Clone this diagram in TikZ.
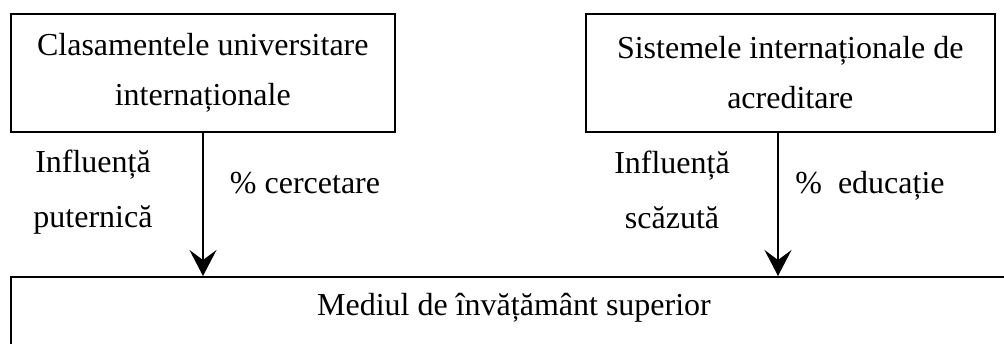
\documentclass[tikz,border=0pt]{standalone}
\usepackage{fontspec}
\setmainfont{Liberation Serif}
\usetikzlibrary{arrows.meta}
\begin{document}
\begin{tikzpicture}[x=1pt,y=-1pt,
  boxstyle/.style={draw=black, line width=1.6pt, inner sep=0pt, align=center,
     font=\fontsize{32}{50}\selectfont},
  lbl/.style={inner sep=0pt, anchor=base, font=\fontsize{32}{38}\selectfont},
  arr/.style={line width=1.8pt, -{Stealth[length=26pt, width=27pt, inset=10pt]}}]
\useasboundingbox (0,0) rectangle (1004,343);
\clip (0,0) rectangle (1004,343);
% top boxes
\node[boxstyle, minimum width=384pt, minimum height=118pt, anchor=north west] (b1) at (10,13)
  {Clasamentele universitare\\internaționale};
\node[boxstyle, minimum width=409pt, minimum height=118pt, anchor=north west] (b2) at (585,13)
  {Sistemele internaționale de\\acreditare};
% bottom box (open to the right and bottom)
\node[draw=black, line width=1.6pt, minimum width=1100pt, minimum height=150pt, anchor=north west] (m) at (10,276) {};
\node[lbl] (mt) at (514,315) {Mediul de învățământ superior};
% x positions of arrows
\coordinate (a1) at (203,0);
\coordinate (a2) at (778,0);
\draw[arr] (b1.south -| a1) -- (m.north -| a1);
\draw[arr] (b2.south -| a2) -- (m.north -| a2);
% labels
\node[lbl] (l1a) at (93,172) {Influență};
\node[lbl] (l1b) at (93,227) {puternică};
\node[lbl] (l1c) at (305,193) {\% cercetare};
\node[lbl] (l2a) at (672,173) {Influență};
\node[lbl] (l2b) at (672,228) {scăzută};
\node[lbl] (l2c) at (870,193) {\%\ \ educație};
\end{tikzpicture}
\end{document}
